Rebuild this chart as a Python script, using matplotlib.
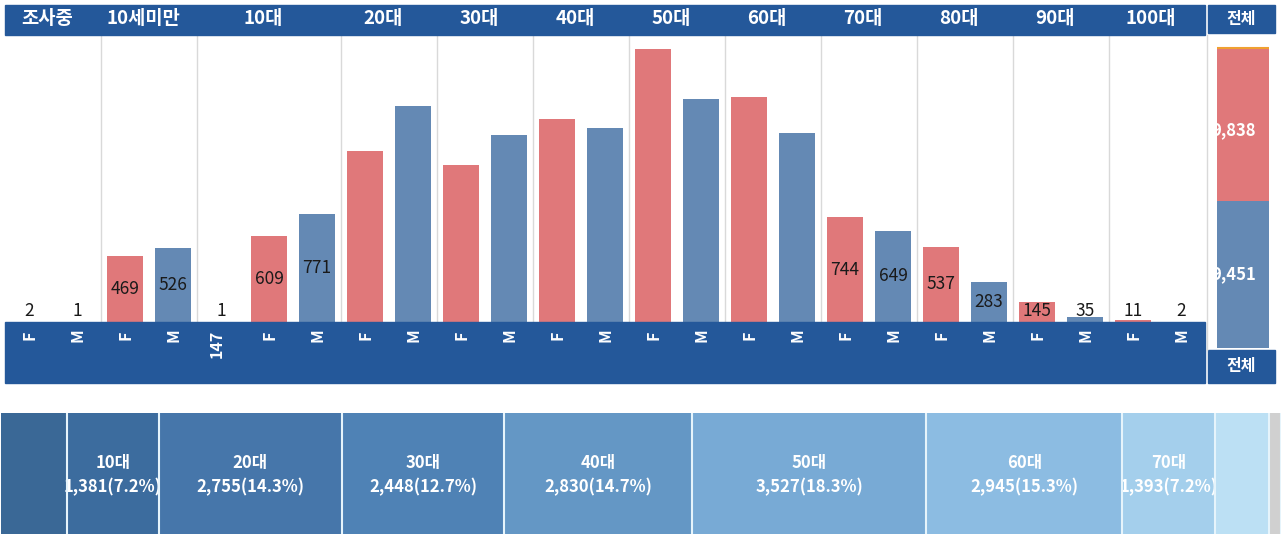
import matplotlib.pyplot as plt
import matplotlib.transforms as mtransforms
from matplotlib.patches import Rectangle

plt.rcParams['font.family'] = ['Noto Sans CJK KR', 'DejaVu Sans']

# Data
groups = ['조사중', '10세미만', '10대', '20대', '30대', '40대', '50대',
          '60대', '70대', '80대', '90대', '100대']
group_sizes = [2, 2, 3, 2, 2, 2, 2, 2, 2, 2, 2, 2]
slot_labels = ['F', 'M', 'F', 'M', '147', 'F', 'M', 'F', 'M', 'F', 'M',
               'F', 'M', 'F', 'M', 'F', 'M', 'F', 'M', 'F', 'M', 'F', 'M', 'F', 'M']
slot_values = [2, 1, 469, 526, 1, 609, 771, 1220, 1535, 1115, 1333,
               1448, 1382, 1940, 1587, 1598, 1347, 744, 649, 537, 283, 145, 35, 11, 2]

# treemap order (age order, unknown last)
tm_order = ['10세미만', '10대', '20대', '30대', '40대', '50대', '60대',
            '70대', '80대', '90대', '100대', '조사중']
tm_colors = ['#3A6896', '#3C6C9E', '#4676AA', '#4F82B5', '#6497C5', '#78AAD5',
             '#8CBCE2', '#A4CFEC', '#BCE0F4', '#D0D0D0', '#D0D0D0', '#D0D0D0']

HEAD = '#24589A'
F_COL = '#E0787A'
M_COL = '#6489B4'

W, H = 1281, 534


def fx(px):
    return px / W


def fy(py):
    return 1 - py / H


fig = plt.figure(figsize=(W / 100, H / 100), dpi=100)

# ---- main bar panel ----
ax = fig.add_axes([fx(5), fy(322), 1200 / W, (322 - 35) / H])
ymax = 287 / 0.1405
ax.set_xlim(0, len(slot_values))
ax.set_ylim(0, ymax)
ax.axis('off')

colors = []
for lab in slot_labels:
    if lab == 'F':
        colors.append(F_COL)
    elif lab == 'M':
        colors.append(M_COL)
    else:
        colors.append('#F0A030')
xs = [i + 0.5 for i in range(len(slot_values))]
ax.bar(xs, slot_values, width=0.75, color=colors)

for x, v in zip(xs, slot_values):
    if v < 1000:
        ax.text(x, max(v / 2, 78), str(v), ha='center', va='center',
                fontsize=12.5, color='#1a1a1a')

# group separators and header texts
bt = mtransforms.blended_transform_factory(ax.transData, fig.transFigure)
fig.add_artist(Rectangle((fx(5), fy(35)), 1200 / W, 30 / H,
                         transform=fig.transFigure, color=HEAD))
fig.add_artist(Rectangle((fx(5), fy(383)), 1200 / W, 61 / H,
                         transform=fig.transFigure, color=HEAD))
start = 0
for g, n in zip(groups, group_sizes):
    if start > 0:
        ax.axvline(start, color='#d9d9d9', lw=1, zorder=0)
    fig.text(start + n / 2 - 0.12, fy(19), g, transform=bt, ha='center',
             va='center', fontsize=13.5, fontweight='bold', color='white')
    start += n

for x, lab in zip(xs, slot_labels):
    if lab in ('F', 'M'):
        fig.text(x, fy(335), lab, transform=bt, ha='center', va='center',
                 rotation=90, fontsize=11.5, fontweight='bold', color='white')
    else:
        fig.text(x - 0.08, fy(344), lab, transform=bt, ha='center', va='center',
                 rotation=90, fontsize=11.5, fontweight='bold', color='white')

# ---- total panel ----
f_total = sum(v for v, l in zip(slot_values, slot_labels) if l == 'F')
m_total = sum(v for v, l in zip(slot_values, slot_labels) if l == 'M')
u_total = sum(v for v, l in zip(slot_values, slot_labels) if l not in ('F', 'M'))
grand = f_total + m_total + u_total

ax2 = fig.add_axes([fx(1216), fy(348), 59 / W, 313 / H])
ax2.set_xlim(0, 1)
ax2.set_ylim(0, grand * 313 / 300)
ax2.axis('off')
ax2.bar(0.458, m_total, width=0.88, color=M_COL)
ax2.bar(0.458, f_total, bottom=m_total, width=0.88, color=F_COL)
ax2.bar(0.458, u_total, bottom=m_total + f_total, width=0.88, color='#F0A030',
        edgecolor='#F0A030', lw=1.5)
ax2.text(0.30, m_total / 2, f'{m_total:,}', ha='center', va='center',
         fontsize=12, fontweight='bold', color='white', clip_on=True)
ax2.text(0.30, m_total + f_total * 0.46, f'{f_total:,}', ha='center', va='center',
         fontsize=12, fontweight='bold', color='white', clip_on=True)

fig.add_artist(plt.Line2D([fx(1207), fx(1207)], [fy(35), fy(350)],
                          transform=fig.transFigure, color='#d9d9d9', lw=1))
fig.add_artist(Rectangle((fx(1208), fy(33)), 67 / W, 28 / H,
                         transform=fig.transFigure, color=HEAD))
fig.add_artist(Rectangle((fx(1208), fy(383)), 67 / W, 33 / H,
                         transform=fig.transFigure, color=HEAD))
fig.text(fx(1241), fy(19), '전체', ha='center', va='center', fontsize=11.5,
         fontweight='bold', color='white')
fig.text(fx(1241), fy(366), '전체', ha='center', va='center', fontsize=11.5,
         fontweight='bold', color='white')

# ---- treemap strip ----
group_sum = {}
start = 0
for g, n in zip(groups, group_sizes):
    group_sum[g] = sum(slot_values[start:start + n])
    start += n
tm_values = [group_sum[g] for g in tm_order]
tm_total = sum(tm_values)

ax3 = fig.add_axes([fx(1), 0, 1281 / W, (534 - 413) / H])
ax3.set_xlim(0, tm_total)
ax3.set_ylim(0, 1)
ax3.axis('off')
left = 0
for g, v, c in zip(tm_order, tm_values, tm_colors):
    ax3.barh(0.5, v, left=left, height=1, color=c)
    if left > 0:
        ax3.axvline(left, color='#E6F4FB', lw=1.5, zorder=5)
    if v > 1200:
        cx = left + v / 2
        ax3.text(cx, 0.59, g, ha='center', va='center', fontsize=12,
                 fontweight='bold', color='white', zorder=3)
        ax3.text(cx, 0.39, f'{v:,}({v / tm_total * 100:.1f}%)', ha='center',
                 va='center', fontsize=12, fontweight='bold', color='white', zorder=3)
    left += v

fig.savefig('out.png', dpi=100)
